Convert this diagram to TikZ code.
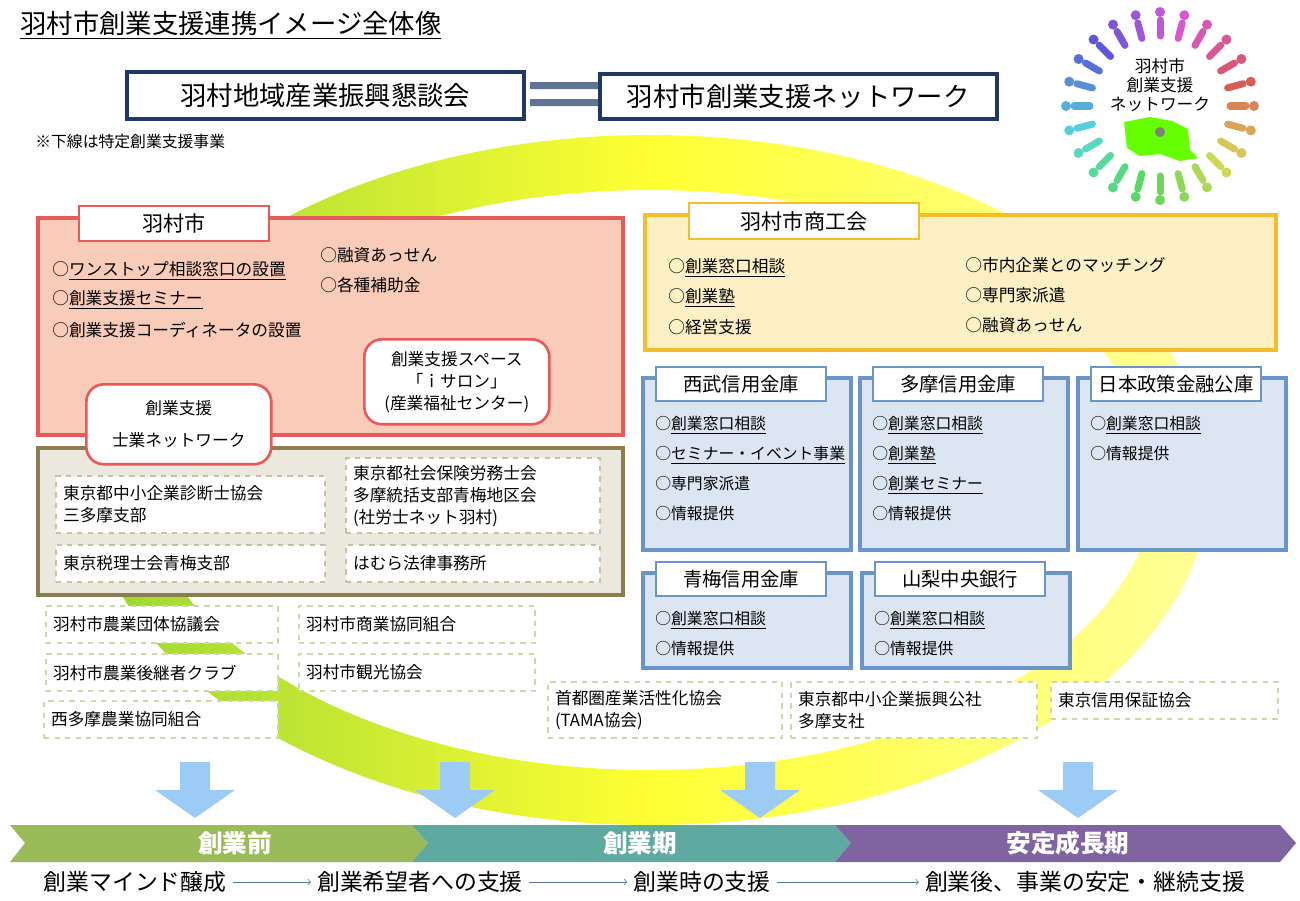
\documentclass[tikz,border=0pt]{standalone}
\usepackage{fontspec}
\setmainfont{Noto Sans CJK JP}
\usetikzlibrary{positioning}
\definecolor{navy}{HTML}{1F3864}
\definecolor{cityred}{HTML}{E8595A}
\definecolor{cityfill}{HTML}{F9CBB9}
\definecolor{chamber}{HTML}{F4BE2A}
\definecolor{chamberfill}{HTML}{FDF0C4}
\definecolor{bank}{HTML}{6A95C8}
\definecolor{bankfill}{HTML}{DCE6F2}
\definecolor{olive}{HTML}{8C7E50}
\definecolor{olivefill}{HTML}{EBE8DD}
\definecolor{dashgreen}{HTML}{C9D9A8}
\definecolor{dashbrown}{HTML}{C8C0A2}
\definecolor{arrowblue}{HTML}{9CCBF5}
\definecolor{phasegreen}{HTML}{9BBB59}
\definecolor{phaseteal}{HTML}{5FAAA0}
\definecolor{phasepurple}{HTML}{8064A2}
\tikzset{
	every node/.style={font=\fontsize{9.5}{12.5}\selectfont},
	head/.style={draw=navy,line width=2.2pt,fill=white,font=\fontsize{15}{18}\selectfont},
	area/.style={line width=2pt},
	tab/.style={draw,line width=1.2pt,fill=white,anchor=north west,font=\fontsize{12}{15}\selectfont},
	item/.style={anchor=west,align=left,inner sep=0pt},
	small/.style={item,font=\fontsize{9}{12}\selectfont},
	dashbox/.style={draw=#1,dashed,line width=1.2pt,fill=white,anchor=north west,align=left,inner sep=4pt},
	pill/.style={draw=cityred,line width=1.5pt,rounded corners=10pt,fill=white,align=center,anchor=north west},
	down/.style={fill=arrowblue,draw=none},
	phase/.style={text=white,font=\bfseries\fontsize{14}{16}\selectfont},
	flow/.style={draw=bank!80!black,->,thin}
}
\newcommand{\ul}[1]{\underline{#1}}
\begin{document}
\begin{tikzpicture}[x=0.02cm,y=-0.02cm]
\useasboundingbox (0,0) rectangle (1300,900);
% ring in the back
\shade[left color=green!60!black!50!yellow,right color=yellow!50,middle color=yellow,even odd rule,opacity=.8]
	(650,480) ellipse [x radius=560,y radius=345] (650,480) ellipse [x radius=505,y radius=290];
% title
\node[item,font=\fontsize{15}{18}\selectfont] (title) at (20,25) {\ul{羽村市創業支援連携イメージ全体像}};
\fill[navy!70] (530,82) rectangle (598,89) (530,99) rectangle (598,106);
\node[head,anchor=north west,minimum height=0.94cm,text width=7.7cm,align=center] (council) at (125,70) {羽村地域産業振興懇談会};
\node[head,anchor=north west,minimum height=0.9cm,text width=7.7cm,align=center] (network) at (598,72) {羽村市創業支援ネットワーク};
\node[small] (note) at (35,142) {※下線は特定創業支援事業};
% Hamura city
\draw[area,draw=cityred,fill=cityfill] (38,218) rectangle (623,435);
\node[tab,draw=cityred,minimum width=3.8cm,minimum height=0.7cm] (city) at (78,205) {羽村市};
\node[item] (c1) at (52,271) {○\ul{ワンストップ相談窓口の設置}};
\node[item] (c2) at (52,300) {○\ul{創業支援セミナー}};
\node[item] (c3) at (52,330) {○創業支援コーディネータの設置};
\node[item] (c4) at (320,255) {○融資あっせん};
\node[item] (c5) at (320,285) {○各種補助金};
% professionals
\draw[area,draw=olive,fill=olivefill] (38,448) rectangle (623,595);
\node[dashbox=dashbrown,text width=5.1cm,minimum height=1.14cm] (p1) at (55,475) {東京都中小企業診断士協会\\三多摩支部};
\node[dashbox=dashbrown,text width=4.8cm,minimum height=1.5cm] (p2) at (345,457) {東京都社会保険労務士会\\多摩統括支部青梅地区会\\(社労士ネット羽村)};
\node[dashbox=dashbrown,text width=5.1cm,minimum height=0.74cm] (p3) at (55,544) {東京税理士会青梅支部};
\node[dashbox=dashbrown,text width=4.8cm,minimum height=0.74cm] (p4) at (345,544) {はむら法律事務所};
\node[pill,minimum width=3.7cm,minimum height=1.7cm] (salon) at (363,338) {創業支援スペース\\「ｉサロン」\\(産業福祉センター)};
\node[pill,minimum width=3.7cm,minimum height=1.6cm] (pronet) at (85,383) {創業支援\\[6pt]士業ネットワーク};
% other bodies
\foreach \x/\y/\w/\t [count=\i] in {45/605/4.36/羽村市農業団体協議会,45/653/4.36/羽村市農業後継者クラブ,43/700/4.4/西多摩農業協同組合,298/605/4.44/羽村市商業協同組合,298/653/4.44/羽村市観光協会,1050/681/4.26/東京信用保証協会}
	\node[dashbox=dashgreen,text width=\w cm,minimum height=0.74cm] (o\i) at (\x,\y) {\t};
\node[dashbox=dashgreen,text width=4.4cm,minimum height=1.12cm] (tama) at (547,681) {首都圏産業活性化協会\\(TAMA協会)};
\node[dashbox=dashgreen,text width=4.64cm,minimum height=1.12cm] (kosha) at (790,681) {東京都中小企業振興公社\\多摩支社};
% chamber of commerce
\draw[area,draw=chamber,fill=chamberfill] (645,215) rectangle (1276,350);
\node[tab,draw=chamber,minimum width=4.6cm,minimum height=0.72cm] (shoko) at (688,202) {羽村市商工会};
\node[item] (s1) at (668,268) {○\ul{創業窓口相談}};
\node[item] (s2) at (668,298) {○\ul{創業塾}};
\node[item] (s3) at (668,327) {○経営支援};
\node[item] (s4) at (965,265) {○市内企業とのマッチング};
\node[item] (s5) at (965,295) {○専門家派遣};
\node[item] (s6) at (965,325) {○融資あっせん};
% banks
\foreach \x/\y/\h/\n/\t in {643/378/172/seibu/西武信用金庫,860/378/172/tamash/多摩信用金庫,1078/378/172/jfc/日本政策金融公庫,643/573/95/ome/青梅信用金庫,862/573/95/yamanashi/山梨中央銀行}{
	\draw[area,draw=bank,fill=bankfill] (\x,\y) rectangle ++(208,\h);
	\node[tab,draw=bank,minimum width=3.4cm,minimum height=0.68cm,font=\fontsize{11}{14}\selectfont] (\n) at (\x+12,\y-12) {\t};
}
\node[small,anchor=north west,yshift=-8pt] (b1) at (seibu.south west) {○\ul{創業窓口相談}\\[5pt]○\ul{セミナー・イベント事業}\\[5pt]○専門家派遣\\[5pt]○情報提供};
\node[small,anchor=north west,yshift=-8pt] (b2) at (tamash.south west) {○\ul{創業窓口相談}\\[5pt]○\ul{創業塾}\\[5pt]○\ul{創業セミナー}\\[5pt]○情報提供};
\node[small,anchor=north west,yshift=-8pt] (b3) at (jfc.south west) {○\ul{創業窓口相談}\\[5pt]○情報提供};
\node[small,anchor=north west,yshift=-8pt] (b4) at (ome.south west) {○\ul{創業窓口相談}\\[5pt]○情報提供};
\node[small,anchor=north west,yshift=-8pt] (b5) at (yamanashi.south west) {○\ul{創業窓口相談}\\[5pt]○情報提供};
% down arrows
\foreach \x in {195,455,760,1078}
	\fill[down] (\x-15,762) -- (\x+15,762) -- (\x+15,790) -- (\x+40,790) -- (\x,818) -- (\x-40,790) -- (\x-15,790) -- cycle;
% phases
\fill[phasegreen] (10,825) -- (412,825) -- (428,843) -- (412,862) -- (10,862) -- (25,843) -- cycle;
\fill[phaseteal] (412,825) -- (835,825) -- (851,843) -- (835,862) -- (412,862) -- (428,843) -- cycle;
\fill[phasepurple] (835,825) -- (1280,825) -- (1296,843) -- (1280,862) -- (835,862) -- (851,843) -- cycle;
\node[phase] (pre) at (235,843) {創業前};
\node[phase] (early) at (640,843) {創業期};
\node[phase] (stable) at (1068,843) {安定成長期};
\node[font=\fontsize{13}{16}\selectfont] (m1) at (135,882) {創業マインド醸成};
\node[font=\fontsize{13}{16}\selectfont] (m2) at (420,882) {創業希望者への支援};
\node[font=\fontsize{13}{16}\selectfont] (m3) at (702,882) {創業時の支援};
\node[font=\fontsize{13}{16}\selectfont] (m4) at (1085,882) {創業後、事業の安定・継続支援};
\draw[flow] (m1) -- (m2);
\draw[flow] (m2) -- (m3);
\draw[flow] (m3) -- (m4);
% logo
\fill[green!60!yellow] (1124,122) -- (1150,117) -- (1172,121) -- (1188,129) -- (1190,150) -- (1198,158) -- (1180,161) -- (1160,154) -- (1140,156) -- (1127,148) -- cycle;
\fill[gray] (1160,132) circle (5);
\foreach \a [count=\k] in {0,15,...,345}{
	\pgfmathsetmacro{\hue}{mod(\k*0.041+0.02,1)}
	\definecolor{pc}{hsb}{\hue,0.6,0.85}
	\draw[pc,line width=4pt,line cap=round] (1160,106)++(\a:70) -- ++(\a:16);
	\fill[pc] (1160,106)++(\a:94) circle (5);
}
\node[align=center,font=\fontsize{9.5}{11}\selectfont] (logo) at (1160,85) {羽村市\\創業支援\\ネットワーク};
\end{tikzpicture}
\end{document}
